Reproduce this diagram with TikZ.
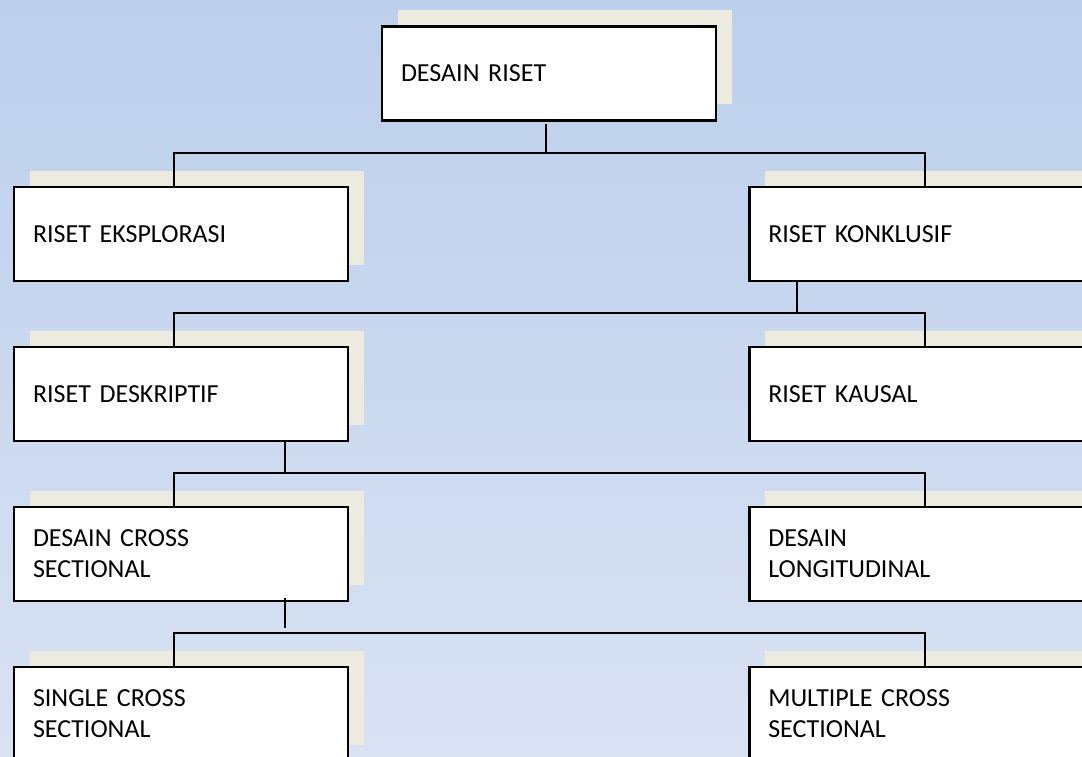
\documentclass[tikz,border=0pt]{standalone}
\usepackage{fontspec}
\setmainfont{Carlito}[WordSpace=0.8]
\usetikzlibrary{shadows}
\definecolor{bgtop}{HTML}{BCCFEC}
\definecolor{bgbot}{HTML}{D9E2F3}
\definecolor{shadowc}{HTML}{EDEBE0}
\tikzset{
  box/.style={draw=black, fill=white, line width=2.7pt, rectangle,
    minimum width=334pt, minimum height=94pt, text width=296pt, inner xsep=19pt,
    align=left, font=\fontsize{26}{31}\selectfont,
    general shadow={fill=shadowc, shadow xshift=16pt, shadow yshift=16pt}},
  conn/.style={draw=black, line width=2.2pt}
}
\begin{document}
\begin{tikzpicture}[x=1pt,y=-1pt]
\shade[top color=bgtop, bottom color=bgbot] (0,0) rectangle (1082,757);
\useasboundingbox (0,0) rectangle (1082,757);
\node[box] (top) at (549,73.5) {DESAIN RISET};
\node[box] (reks) at (181,234) {RISET EKSPLORASI};
\node[box] (rkon) at (916.3,234) {RISET KONKLUSIF};
\node[box] (rdes) at (181,394) {RISET DESKRIPTIF};
\node[box] (rkau) at (916.3,394) {RISET KAUSAL};
\node[box] (dcs) at (181,554) {DESAIN CROSS\\SECTIONAL};
\node[box] (dlo) at (916.3,554) {DESAIN\\LONGITUDINAL};
\node[box] (scs) at (181,714) {SINGLE CROSS\\SECTIONAL};
\node[box] (mcs) at (916.3,714) {MULTIPLE CROSS\\SECTIONAL};
% bus 0
\coordinate (j0) at (546,153);
\coordinate (b0l) at (174,153);
\coordinate (b0r) at (925,153);
\draw[conn] ([yshift=-2pt]top.south -| j0) -- (j0);
\draw[conn] (reks.north -| b0l) -- (b0l) -- (b0r) -- (rkon.north -| b0r);
% bus 1
\coordinate (j1) at (797,313);
\coordinate (b1l) at (174,313);
\coordinate (b1r) at (925,313);
\draw[conn] (rkon.south -| j1) -- (j1);
\draw[conn] (rdes.north -| b1l) -- (b1l) -- (b1r) -- (rkau.north -| b1r);
% bus 2
\coordinate (j2) at (285,473);
\coordinate (b2l) at (174,473);
\coordinate (b2r) at (925,473);
\draw[conn] (rdes.south -| j2) -- (j2);
\draw[conn] (dcs.north -| b2l) -- (b2l) -- (b2r) -- (dlo.north -| b2r);
% bus 3
\coordinate (j3) at (285,628);
\coordinate (b3l) at (174,633);
\coordinate (b3r) at (925,633);
\draw[conn] ([yshift=4pt]dcs.south -| j3) -- (j3);
\draw[conn] (scs.north -| b3l) -- (b3l) -- (b3r) -- (mcs.north -| b3r);
\end{tikzpicture}
\end{document}
